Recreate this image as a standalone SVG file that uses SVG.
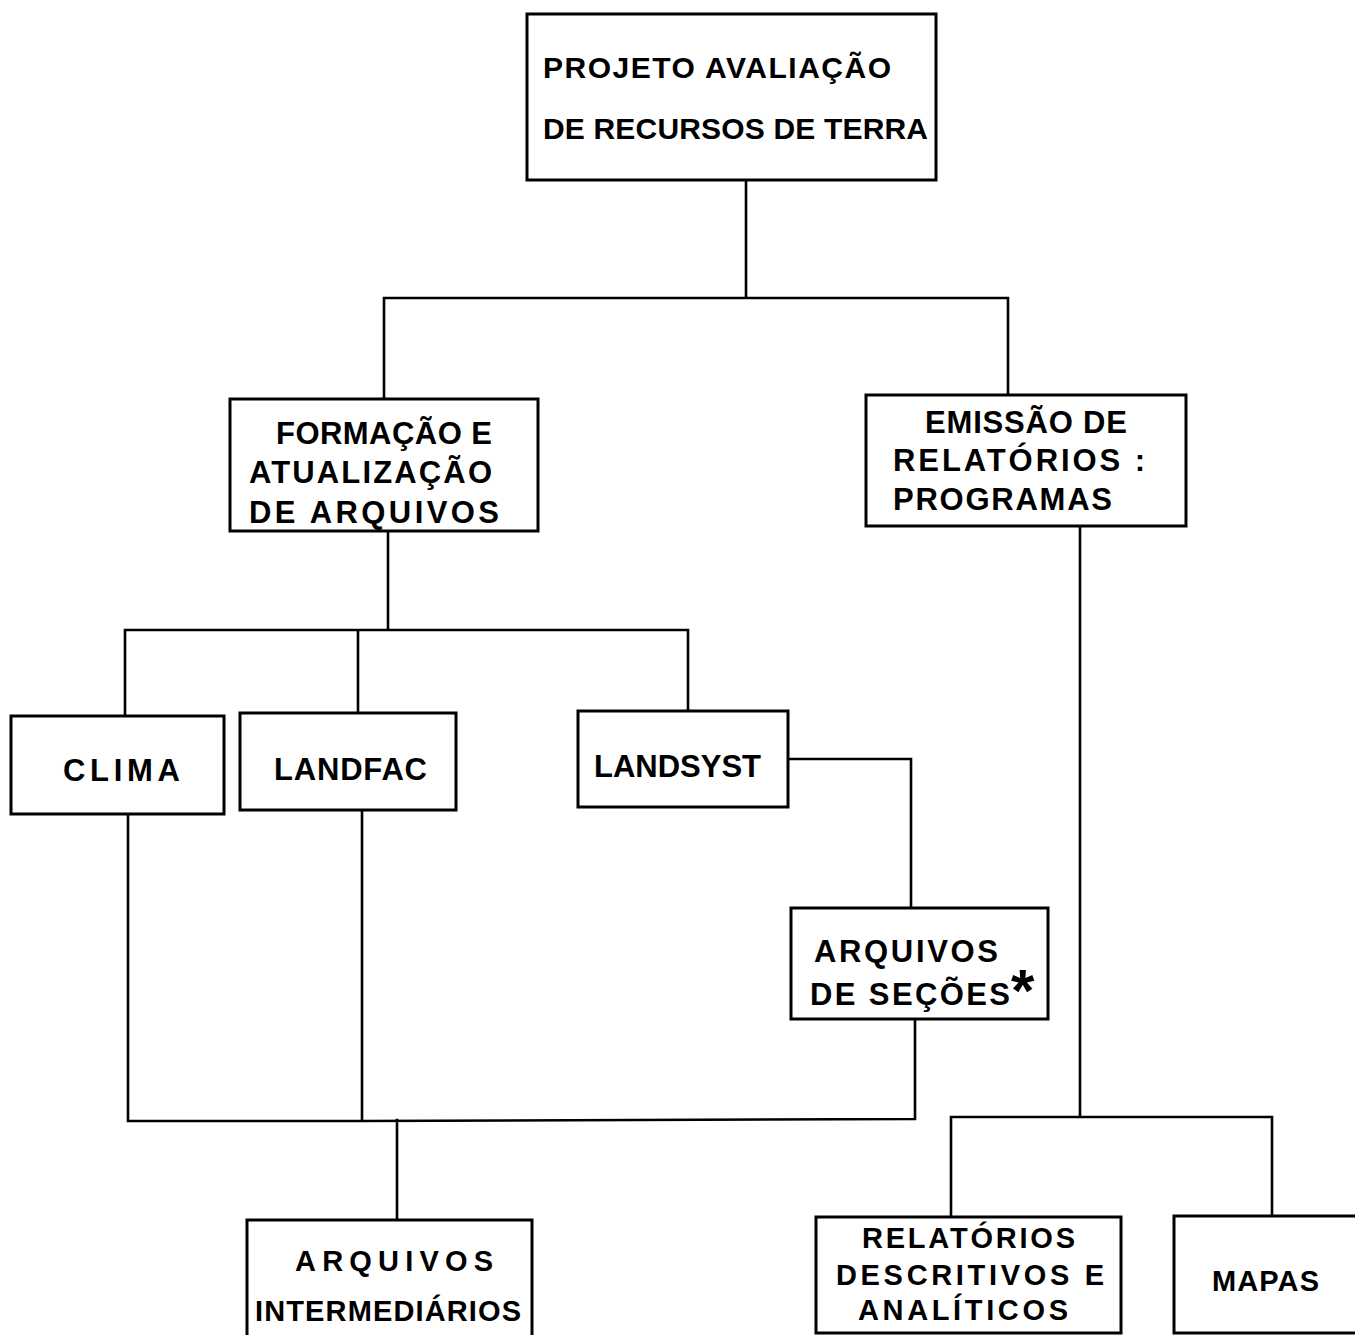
<svg xmlns="http://www.w3.org/2000/svg" width="1355" height="1335" viewBox="0 0 1355 1335">
  <style>
    .box { fill: #ffffff; stroke: #000000; stroke-width: 3; }
    .wire { fill: none; stroke: #000000; stroke-width: 2.6; stroke-linecap: square; }
    .lbl { font-family: "Liberation Sans", Arial, sans-serif; font-weight: bold; font-size: 31px; fill: #000000; }
    .big { font-size: 30px; }
    .sm { font-size: 29px; }
    .star { font-size: 60px; }
  </style>
  <rect width="1355" height="1335" fill="#ffffff"/>

  <!-- connectors -->
  <g id="connectors">
    <path class="wire" d="M746,180 V298 M384,298 H1008 M384,298 V399 M1008,298 V395"/>
    <path class="wire" d="M388,531 V630 M125,630 H688 M125,630 V716 M358,630 V713 M688,630 V711"/>
    <path class="wire" d="M788,759 H911 V908"/>
    <path class="wire" d="M128,814 V1121 M362,810 V1121 M915,1019 V1119 M128,1121 H362 L915,1119 M397,1120 V1220"/>
    <path class="wire" d="M1080,526 V1117 M951,1117 H1272 M951,1117 V1217 M1272,1117 V1216"/>
  </g>

  <!-- nodes -->
  <g id="projeto">
    <rect class="box" x="527" y="14" width="409" height="166"/>
    <text class="lbl big" x="543" y="78" textLength="348" lengthAdjust="spacing">PROJETO AVALIAÇÃO</text>
    <text class="lbl big" x="543" y="139" textLength="385" lengthAdjust="spacing">DE RECURSOS DE TERRA</text>
  </g>

  <g id="formacao">
    <rect class="box" x="230" y="399" width="308" height="132"/>
    <text class="lbl" x="276" y="444" textLength="216" lengthAdjust="spacing">FORMAÇÃO E</text>
    <text class="lbl" x="249" y="483" textLength="243" lengthAdjust="spacing">ATUALIZAÇÃO</text>
    <text class="lbl" x="249" y="523" textLength="250" lengthAdjust="spacing">DE ARQUIVOS</text>
  </g>

  <g id="emissao">
    <rect class="box" x="866" y="395" width="320" height="131"/>
    <text class="lbl" x="925" y="433" textLength="202" lengthAdjust="spacing">EMISSÃO DE</text>
    <text class="lbl" x="893" y="471" textLength="252" lengthAdjust="spacing">RELATÓRIOS :</text>
    <text class="lbl" x="893" y="510" textLength="219" lengthAdjust="spacing">PROGRAMAS</text>
  </g>

  <g id="clima">
    <rect class="box" x="11" y="716" width="213" height="98"/>
    <text class="lbl" x="63" y="781" textLength="117" lengthAdjust="spacing">CLIMA</text>
  </g>

  <g id="landfac">
    <rect class="box" x="240" y="713" width="216" height="97"/>
    <text class="lbl" x="274" y="780" textLength="153" lengthAdjust="spacing">LANDFAC</text>
  </g>

  <g id="landsyst">
    <rect class="box" x="578" y="711" width="210" height="96"/>
    <text class="lbl" x="594" y="777" textLength="167" lengthAdjust="spacing">LANDSYST</text>
  </g>

  <g id="secoes">
    <rect class="box" x="791" y="908" width="257" height="111"/>
    <text class="lbl" x="814" y="962" textLength="184" lengthAdjust="spacing">ARQUIVOS</text>
    <text class="lbl" x="810" y="1005" textLength="200" lengthAdjust="spacing">DE SEÇÕES</text>
    <text class="lbl star" x="1011" y="1011">*</text>
  </g>

  <g id="intermediarios">
    <rect class="box" x="247" y="1220" width="285" height="125"/>
    <text class="lbl sm" x="295" y="1271" textLength="198" lengthAdjust="spacing">ARQUIVOS</text>
    <text class="lbl sm" x="255" y="1321" textLength="266" lengthAdjust="spacing">INTERMEDIÁRIOS</text>
  </g>

  <g id="relatorios">
    <rect class="box" x="816" y="1217" width="305" height="116"/>
    <text class="lbl sm" x="862" y="1248" textLength="213" lengthAdjust="spacing">RELATÓRIOS</text>
    <text class="lbl sm" x="836" y="1285" textLength="268" lengthAdjust="spacing">DESCRITIVOS E</text>
    <text class="lbl sm" x="858" y="1320" textLength="210" lengthAdjust="spacing">ANALÍTICOS</text>
  </g>

  <g id="mapas">
    <rect class="box" x="1174" y="1216" width="200" height="117"/>
    <text class="lbl sm" x="1212" y="1291" textLength="107" lengthAdjust="spacing">MAPAS</text>
  </g>
</svg>
